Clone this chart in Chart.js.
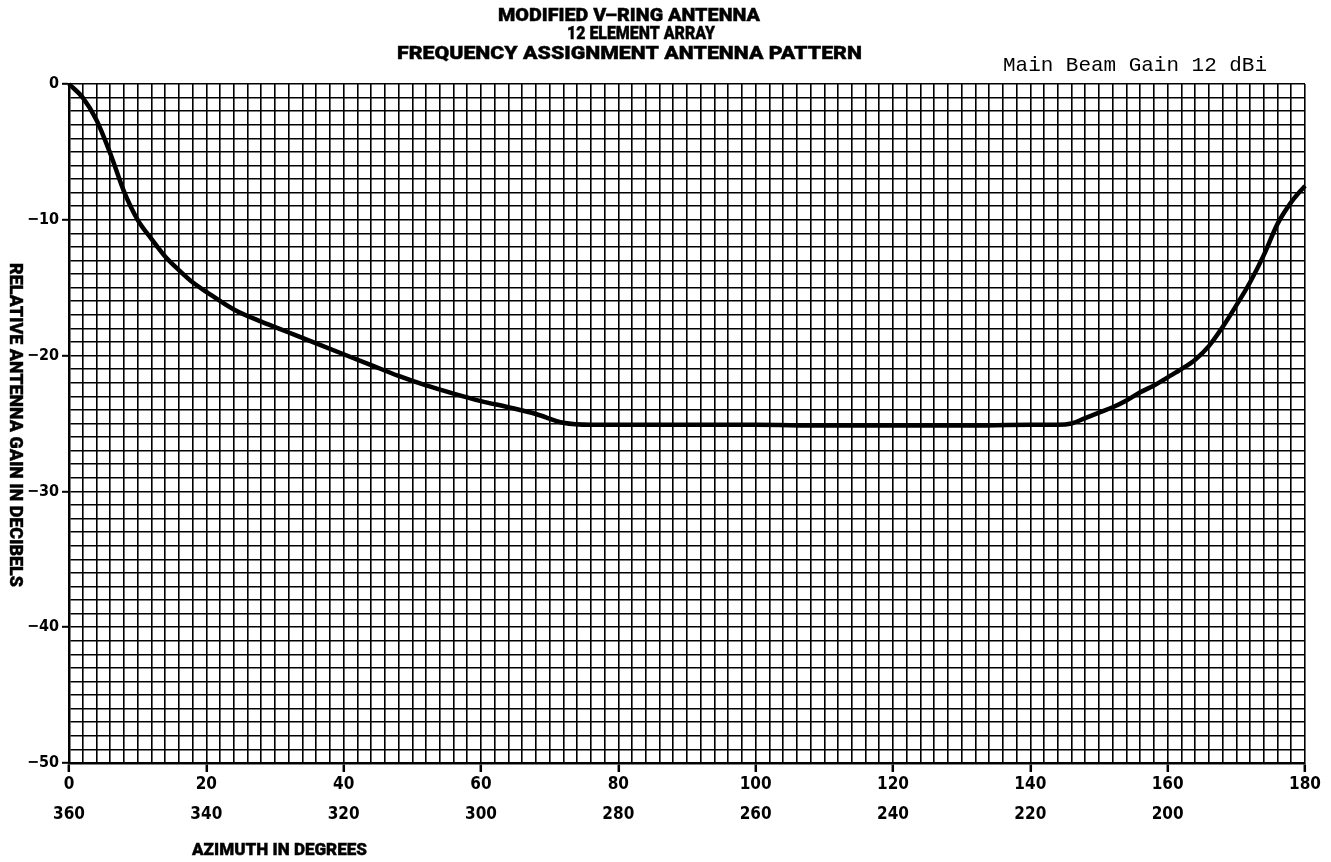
<!DOCTYPE html>
<html>
<head>
<meta charset="utf-8">
<title>Modified V-Ring Antenna</title>
<script src="https://cdn.jsdelivr.net/npm/chart.js@4.4.0/dist/chart.umd.min.js"></script>
<style>
html, body { margin: 0; padding: 0; background: #fff; }
</style>
</head>
<body>
<canvas id="myChart" width="1331" height="862"></canvas>
<script>
// values (azimuth in degrees, relative gain in dB)
const azimuth = [0, 2, 4, 6, 8, 10, 12, 14, 16, 18, 20, 24, 28, 32, 36, 40, 44, 48, 52, 56, 60, 64, 68, 72, 76,
    80, 90, 100, 110, 120, 130, 140, 144, 146, 148, 150, 152, 154, 156, 158, 160, 162, 164, 166, 168, 170, 172, 174, 176, 178, 180];
const gain = [0, -1.0, -2.65, -5.1, -7.9, -10.0, -11.4, -12.7, -13.7, -14.6, -15.3, -16.6, -17.5, -18.3, -19.1, -19.9, -20.7, -21.5, -22.2, -22.8, -23.35, -23.8, -24.3, -24.95, -25.1,
    -25.1, -25.1, -25.1, -25.15, -25.15, -25.15, -25.1, -25.1, -25.0, -24.6, -24.2, -23.8, -23.3, -22.7, -22.2, -21.6, -21.0, -20.3, -19.3, -17.9, -16.3, -14.6, -12.6, -10.3, -8.7, -7.5];

const xTickValues = [0, 20, 40, 60, 80, 100, 120, 140, 160, 180];
const xTickLabels = ['0', '20', '40', '60', '80', '100', '120', '140', '160', '180'];
const backAzimuthLabels = ['360', '340', '320', '300', '280', '260', '240', '220', '200', ''];
const yTickValues = [0, -10, -20, -30, -40, -50];
const yTickLabels = ['0', '\u221210', '\u221220', '\u221230', '\u221240', '\u221250'];

const titleLines = ['MODIFIED V\u2013RING ANTENNA', '12 ELEMENT ARRAY', 'FREQUENCY ASSIGNMENT ANTENNA PATTERN'];
const gainNote = 'Main Beam Gain 12 dBi';
const yTitle = 'RELATIVE ANTENNA GAIN IN DECIBELS';
const xTitle = 'AZIMUTH IN DEGREES';

const narrow = "'Liberation Sans Narrow', 'DejaVu Sans Condensed', 'Roboto Condensed', 'Liberation Sans', sans-serif";
const heavy = "900 18px Roboto, 'Liberation Sans', Arial, sans-serif";

// squeeze a string into a given width, the printed lettering is very condensed
function fitText(ctx, text, x, y, width, font, align, stroke) {
    ctx.save();
    ctx.font = font;
    let w = ctx.measureText(text).width;
    ctx.translate(x, y);
    ctx.scale(width / w, 1);
    ctx.textAlign = align;
    ctx.fillStyle = '#000';
    ctx.fillText(text, 0, 0);
    if (stroke) {
        ctx.strokeStyle = '#000';
        ctx.lineWidth = stroke;
        ctx.strokeText(text, 0, 0);
    }
    ctx.restore();
}

const labelsPlugin = {
    id: 'labels',
    afterDraw(chart) {
        let ctx = chart.ctx;
        ctx.textBaseline = 'alphabetic';
        fitText(ctx, titleLines[0], 629, 21, 262, heavy, 'center', 0.4);
        fitText(ctx, titleLines[1], 641, 39, 148, heavy, 'center', 0.4);
        fitText(ctx, titleLines[2], 629.5, 59, 465, heavy, 'center', 0.4);
        fitText(ctx, gainNote, 1003, 71, 264, "21px 'Liberation Mono', 'Courier New', monospace", 'left');
        fitText(ctx, xTitle, 192, 855, 175, "900 17px Roboto, 'Liberation Sans', sans-serif", 'left', 0.4);

        ctx.save();
        ctx.translate(10, 425);
        ctx.rotate(Math.PI / 2);
        fitText(ctx, yTitle, 0, 0, 324, "900 19px Roboto, 'Liberation Sans', sans-serif", 'center', 0.4);
        ctx.restore();
    }
};

function tickMark(c) {
    return c.tick && c.tick.value % 10 === 0 ? '#000' : 'rgba(0,0,0,0)';
}

var ctx = document.getElementById('myChart').getContext('2d');
var chart = new Chart(ctx, {
    type: 'line',
    data: {
        datasets: [{
            data: azimuth.map((a, i) => ({ x: a, y: gain[i] })),
            borderColor: '#000',
            borderWidth: 4.5,
            pointRadius: 0,
            cubicInterpolationMode: 'monotone',
            fill: false,
            clip: 5
        }]
    },
    options: {
        responsive: false,
        animation: false,
        layout: { padding: { left: 0, top: 84, right: 26, bottom: 0 } },
        plugins: { legend: { display: false }, tooltip: { enabled: false } },
        scales: {
            x: {
                type: 'linear',
                min: 0,
                max: 180,
                afterFit: s => { s.height = 99; },
                border: { color: '#000', width: 2.5 },
                grid: { color: '#000', lineWidth: 1.6, tickLength: 9, tickColor: c => c.tick && c.tick.value % 20 === 0 ? '#000' : 'rgba(0,0,0,0)', tickWidth: 2.5 },
                ticks: {
                    stepSize: 2,
                    autoSkip: false,
                    maxRotation: 0,
                    padding: -3,
                    color: '#000',
                    font: { family: narrow, size: 17, weight: 'bold', lineHeight: 1.8 },
                    callback: v => {
                        let i = xTickValues.indexOf(v);
                        return i < 0 ? '' : [xTickLabels[i], backAzimuthLabels[i]];
                    }
                }
            },
            y: {
                type: 'linear',
                min: -50,
                max: 0,
                afterFit: s => { s.width = 69; },
                border: { color: '#000', width: 2.5 },
                grid: { color: '#000', lineWidth: 1.6, tickLength: 7, tickColor: tickMark, tickWidth: 2 },
                ticks: {
                    stepSize: 1,
                    autoSkip: false,
                    padding: 3,
                    color: '#000',
                    font: { family: narrow, size: 16, weight: 'bold' },
                    callback: v => {
                        let i = yTickValues.indexOf(v);
                        return i < 0 ? '' : yTickLabels[i];
                    }
                }
            }
        }
    },
    plugins: [labelsPlugin]
});
</script>
</body>
</html>
